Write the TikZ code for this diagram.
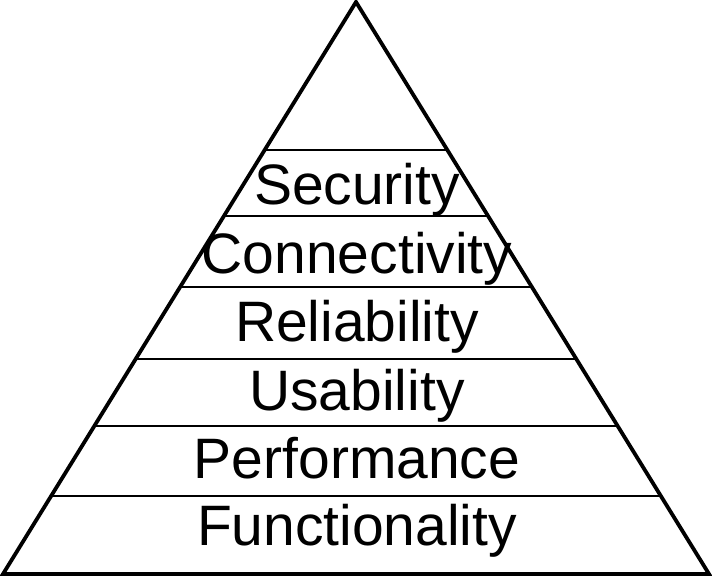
\documentclass[tikz,border=0pt]{standalone}
\usepackage{fontspec}
\setmainfont{Liberation Sans}
\usetikzlibrary{calc}
\begin{document}
\begin{tikzpicture}[x=0.5pt,y=-0.5pt,line join=miter]
    \useasboundingbox (0,0) rectangle (712,577);
    \coordinate (apex) at (356,2);
    \coordinate (bl) at (3,574);
    \coordinate (br) at (709,574);
    \draw[line width=1.9pt] (apex) -- (br) -- (bl) -- cycle;
    \foreach \y in {150,216,287,359,426,496}
      \draw[line width=1.2pt] ($(apex)!{(\y-2)/572}!(bl)$) -- ($(apex)!{(\y-2)/572}!(br)$);
    \foreach \name/\yb/\txt in {sec/205/Security, con/274/Connectivity, rel/342/Reliability,
        usa/410/Usability, per/478/Performance, fun/545/Functionality}
      \node[anchor=base, inner sep=0pt, font=\fontsize{28.5}{32}\selectfont] (\name) at (357,\yb) {\txt};
  \end{tikzpicture}
\end{document}
